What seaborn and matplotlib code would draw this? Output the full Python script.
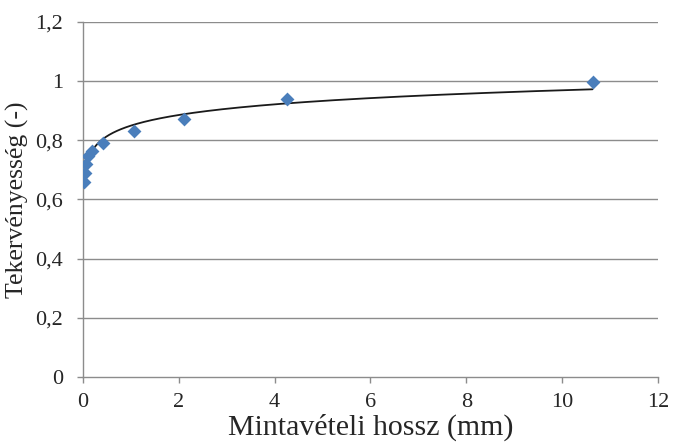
import matplotlib
matplotlib.use("Agg")
import matplotlib.pyplot as plt
import numpy as np
import pandas as pd
import seaborn as sns

# Mintavételi hossz (mm) és tekervényesség (-)
hossz = [0.03, 0.045, 0.07, 0.11, 0.2, 0.42, 1.06, 2.12, 4.25, 10.63]
tekerv = [0.66, 0.69, 0.72, 0.745, 0.765, 0.79, 0.83, 0.873, 0.94, 0.995]

# logaritmikus trendvonal: y = A*ln(x) + B (leolvasva az ábráról)
TREND_A = 0.052
TREND_B = 0.849

x_ticks = [0, 2, 4, 6, 8, 10, 12]
y_ticks = [0, 0.2, 0.4, 0.6, 0.8, 1.0, 1.2]
y_labels = ["0", "0,2", "0,4", "0,6", "0,8", "1", "1,2"]

df = pd.DataFrame({"hossz": hossz, "tekerv": tekerv})
trend = pd.DataFrame({"hossz": np.geomspace(min(hossz), max(hossz), 400)})
trend["tekerv"] = TREND_A * np.log(trend["hossz"]) + TREND_B

sns.set_style("white")
plt.rcParams["font.family"] = ["Liberation Serif", "DejaVu Serif"]

fig = plt.figure(figsize=(6.73, 4.45), dpi=100)
ax = fig.add_axes([0.123, 0.153, 0.855, 0.798])

grid_c = "#8c8c8c"
for yv in y_ticks[1:]:
    ax.axhline(yv, color=grid_c, linewidth=1, zorder=0)

sns.lineplot(data=trend, x="hossz", y="tekerv", ax=ax, color="#1a1a1a",
             linewidth=1.3, zorder=2)
sns.scatterplot(data=df, x="hossz", y="tekerv", ax=ax, marker="D", s=50,
                color="#4a7ebb", edgecolor="#4a7ebb", linewidth=0, zorder=3)

ax.set_xlim(0, 12)
ax.set_ylim(0, 1.2)
ax.set_xticks(x_ticks)
ax.set_xticklabels([str(t) for t in x_ticks])
ax.set_yticks(y_ticks)
ax.set_yticklabels(y_labels)

for s in ["top", "right"]:
    ax.spines[s].set_visible(False)
for s in ["left", "bottom"]:
    ax.spines[s].set_color(grid_c)
    ax.spines[s].set_linewidth(1)

ax.tick_params(axis="both", direction="out", length=4.3, width=1, color=grid_c,
               labelsize=16, pad=7.5, bottom=True, left=True)
ax.tick_params(axis="y", pad=10)
ax.set_xlabel("Mintavételi hossz (mm)", fontsize=21.5, labelpad=1)
ax.set_ylabel("Tekervényesség (-)", fontsize=18.5)
ax.yaxis.set_label_coords(-0.093, 0.5)

fig.savefig("out.png", dpi=100)
